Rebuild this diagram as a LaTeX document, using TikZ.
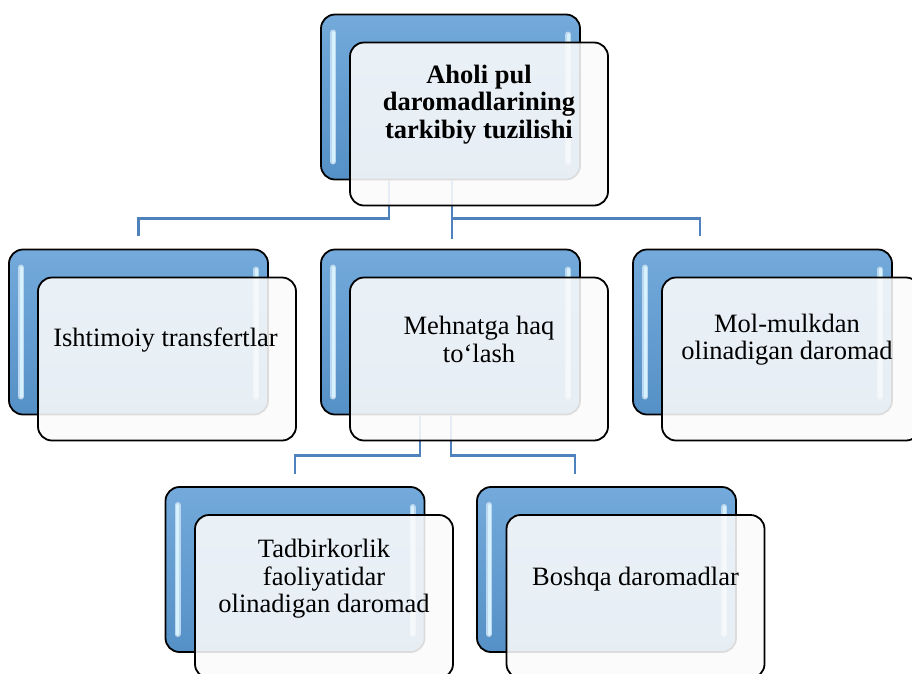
\documentclass[tikz,border=0pt]{standalone}
\usepackage{fontspec}
\setmainfont{Liberation Serif}
\usetikzlibrary{positioning}
\definecolor{bkblue}{RGB}{91,155,213}
\definecolor{linkblue}{RGB}{79,129,189}
\definecolor{shinecol}{RGB}{215,242,255}
\definecolor{frontfill}{RGB}{251,251,251}

\begin{document}
\begin{tikzpicture}[x=1pt, y=-1pt,
  shine/.style={line width=3pt, line cap=round, draw=shinecol,
    preaction={draw=bkblue!40!white, line width=6pt, line cap=round}},
  backbox/.style={draw=black, line width=1.8pt, rounded corners=14pt,
    minimum width=259pt, minimum height=165pt, inner sep=0pt,
    top color=bkblue!85!white, middle color=bkblue, bottom color=bkblue!93!black,
    path picture={
      \draw[shine] ([shift={(12pt,-18pt)}]path picture bounding box.north west)
        -- ([shift={(12pt,18pt)}]path picture bounding box.south west);
      \draw[shine] ([shift={(-12pt,-20pt)}]path picture bounding box.north east)
        -- ([shift={(-12pt,18pt)}]path picture bounding box.south east);}},
  frontbox/.style={draw=black, line width=1.8pt, rounded corners=14pt,
    minimum width=258pt, minimum height=163pt, inner sep=0pt,
    fill=frontfill, fill opacity=0.88},
  link/.style={draw=linkblue, line width=2.6pt},
  boxtext/.style={align=center, font=\fontsize{26.5}{27.5}\selectfont}]
  \useasboundingbox (0,0) rectangle (912,673);

  % Back boxes
  \node[backbox] (topback) at (450.5,97) {};
  \node[backbox] (leftback) at (138.5,332) {};
  \node[backbox] (midback) at (450.5,332) {};
  \node[backbox] (rightback) at (762.5,332) {};
  \node[backbox] (gleftback) at (295,569.5) {};
  \node[backbox] (grightback) at (606.5,569.5) {};

  % Connectors
  \draw[link] ([xshift=-61.5pt]topback.south) -- ++(0,38)
    -| ([yshift=13pt]leftback.north);
  \draw[link] ([xshift=1.5pt]topback.south)
    -- ([xshift=1.5pt, yshift=10pt]midback.north);
  \draw[link] ([xshift=1.5pt, yshift=-38pt]topback.south)
    -| ([xshift=-62.5pt, yshift=13pt]rightback.north);
  \draw[link] ([xshift=-30.5pt]midback.south) -- ++(0,40)
    -| ([yshift=12pt]gleftback.north);
  \draw[link] ([xshift=0.5pt]midback.south) -- ++(0,40)
    -| ([xshift=-31.5pt, yshift=12pt]grightback.north);

  % Front boxes
  \node[frontbox] (topfront) at ([shift={(28.5pt,-27pt)}]topback) {};
  \node[frontbox] (leftfront) at ([shift={(28.5pt,-27pt)}]leftback) {};
  \node[frontbox] (midfront) at ([shift={(28.5pt,-27pt)}]midback) {};
  \node[frontbox] (rightfront) at ([shift={(28.5pt,-27pt)}]rightback) {};
  \node[frontbox] (gleftfront) at ([shift={(29pt,-27pt)}]gleftback) {};
  \node[frontbox] (grightfront) at ([shift={(29pt,-27pt)}]grightback) {};

  % Labels
  \node[boxtext, font=\fontsize{26.5}{27.5}\selectfont\bfseries] (toptext)
    at ([yshift=-63pt]topfront.north) {Aholi pul\\daromadlarining\\tarkibiy tuzilishi};
  \node[boxtext] (lefttext) at ([xshift=-1.5pt, yshift=-63pt]leftfront.north)
    {Ishtimoiy transfertlar};
  \node[boxtext] (midtext) at ([yshift=-63pt]midfront.north)
    {Mehnatga haq\\to‘lash};
  \node[boxtext] (righttext) at ([xshift=-4pt, yshift=-63pt]rightfront.north)
    {Mol-mulkdan\\olinadigan daromad};
  \node[boxtext] (glefttext) at ([yshift=-65pt]gleftfront.north)
    {Tadbirkorlik\\faoliyatidar\\olinadigan daromad};
  \node[boxtext] (grighttext) at ([yshift=-65pt]grightfront.north)
    {Boshqa daromadlar};
\end{tikzpicture}
\end{document}
